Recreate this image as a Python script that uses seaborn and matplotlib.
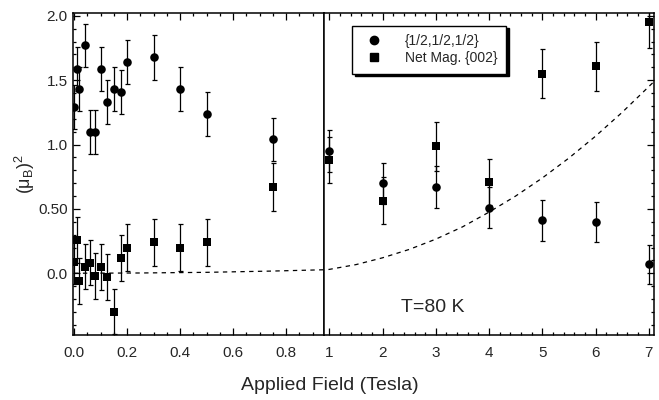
import numpy as np
import pandas as pd
import matplotlib.pyplot as plt
from matplotlib.lines import Line2D
from matplotlib.ticker import MultipleLocator, FixedLocator, FixedFormatter
import seaborn as sns

sns.set_theme(style="ticks")
plt.rcParams['font.family'] = ['Liberation Sans', 'DejaVu Sans']
plt.rcParams['mathtext.fontset'] = 'custom'
plt.rcParams['mathtext.rm'] = 'Liberation Sans'
plt.rcParams['mathtext.it'] = 'Liberation Sans'

# low field data (0 - 0.75 T)
low_field = [0.0, 0.01, 0.02, 0.04, 0.06, 0.08, 0.10, 0.125, 0.15, 0.175, 0.20, 0.30, 0.40, 0.50, 0.75]
low_half = [1.29, 1.59, 1.43, 1.77, 1.10, 1.10, 1.59, 1.33, 1.43, 1.41, 1.64, 1.68, 1.43, 1.24, 1.04]
low_half_err = [0.17, 0.17, 0.17, 0.17, 0.17, 0.17, 0.17, 0.17, 0.17, 0.17, 0.17, 0.175, 0.17, 0.17, 0.17]
low_net = [0.09, 0.26, -0.06, 0.05, 0.08, -0.02, 0.05, -0.03, -0.30, 0.12, 0.20, 0.24, 0.20, 0.24, 0.67]
low_net_err = [0.175, 0.18, 0.18, 0.175, 0.175, 0.18, 0.18, 0.18, 0.175, 0.18, 0.18, 0.18, 0.18, 0.18, 0.19]

# high field data (1 - 7 T)
high_field = [1, 2, 3, 4, 5, 6, 7]
high_half = [0.95, 0.70, 0.67, 0.51, 0.41, 0.40, 0.07]
high_half_err = [0.16, 0.16, 0.16, 0.16, 0.16, 0.155, 0.15]
high_net = [0.88, 0.565, 0.985, 0.71, 1.55, 1.61, 1.95]
high_net_err = [0.18, 0.18, 0.19, 0.18, 0.19, 0.19, 0.20]

# dashed curve
fit_x = [0, 0.25, 0.5, 0.75, 1, 1.5, 2, 2.5, 3, 3.5, 4, 4.5, 5, 5.5, 6, 6.5, 7, 7.1]
fit_y = [0, 0.002, 0.007, 0.017, 0.03, 0.067, 0.12, 0.185, 0.265, 0.36, 0.475, 0.60, 0.74, 0.895, 1.065, 1.25, 1.45, 1.49]

y_ticks = [0.0, 0.5, 1.0, 1.5, 2.0]
y_tick_labels = ["0.0", "0.50", "1.0", "1.5", "2.0"]

fig = plt.figure(figsize=(6.59, 4.0), dpi=100)
ax1 = fig.add_axes([0.1113, 0.1625, 0.3804, 0.8042])
ax2 = fig.add_axes([0.4917, 0.1625, 0.5008, 0.8042])

def draw(ax, x, yh, eh, yn, en):
    ax.errorbar(x, yh, yerr=eh, fmt='none', ecolor='black', elinewidth=0.9, capsize=1.8, capthick=0.9, zorder=2)
    ax.errorbar(x, yn, yerr=en, fmt='none', ecolor='black', elinewidth=0.9, capsize=1.8, capthick=0.9, zorder=2)
    sns.scatterplot(x=x, y=yh, marker='o', s=38, color='black', edgecolor='black', linewidth=0, ax=ax, zorder=3)
    sns.scatterplot(x=x, y=yn, marker='s', s=36, color='black', edgecolor='black', linewidth=0, ax=ax, zorder=3)
    ax.plot(fit_x, fit_y, color='black', lw=0.9, ls=(0, (3.5, 3.5)), zorder=1)

draw(ax1, low_field, low_half, low_half_err, low_net, low_net_err)
draw(ax2, high_field, high_half, high_half_err, high_net, high_net_err)

ax1.set_xlim(-0.003, 0.943)
ax2.set_xlim(0.9, 7.1)
for ax in (ax1, ax2):
    ax.set_ylim(-0.48, 2.02)
    ax.yaxis.set_major_locator(FixedLocator(y_ticks))
    ax.yaxis.set_minor_locator(MultipleLocator(0.1))
    for s in ax.spines.values():
        s.set_linewidth(1.1)
        s.set_color('black')
    ax.tick_params(which='both', direction='in', top=True, color='black', width=0.9)
    ax.tick_params(which='major', length=5, labelsize=11, pad=8)
    ax.tick_params(which='minor', length=2.5)
    ax.set_xlabel('')
    ax.set_ylabel('')

ax1.yaxis.set_major_formatter(FixedFormatter(y_tick_labels))
ax1.tick_params(axis='y', left=True, right=False, which='both', pad=4)
ax1.xaxis.set_major_locator(MultipleLocator(0.2))
ax1.xaxis.set_minor_locator(MultipleLocator(0.05))
ax1.xaxis.set_major_formatter(plt.FormatStrFormatter('%.1f'))

ax2.tick_params(axis='y', left=False, right=True, labelleft=False, which='both')
ax2.xaxis.set_major_locator(MultipleLocator(1))
ax2.xaxis.set_minor_locator(MultipleLocator(0.2))

ax1.set_ylabel(r'$(\mu_{\rm B})^2$', fontsize=13, labelpad=1)
fig.text(0.501, 0.036, 'Applied Field (Tesla)', ha='center', va='center', fontsize=14)
ax2.text(2.95, -0.27, 'T=80 K', ha='center', va='center', fontsize=14)

handles = [
    Line2D([], [], marker='o', color='black', ls='none', markersize=6),
    Line2D([], [], marker='s', color='black', ls='none', markersize=5.5),
]
leg = ax2.legend(handles, ['{1/2,1/2,1/2}', 'Net Mag. {002}'], loc='upper left',
                 bbox_to_anchor=(0.085, 0.962), fontsize=10, frameon=True, fancybox=False,
                 shadow={'color': 'black', 'alpha': 1}, borderpad=0.6, handletextpad=1.2,
                 labelspacing=0.25, borderaxespad=0)
leg.get_frame().set_edgecolor('black')
leg.get_frame().set_linewidth(1.0)

fig.savefig('out.png', dpi=100)
